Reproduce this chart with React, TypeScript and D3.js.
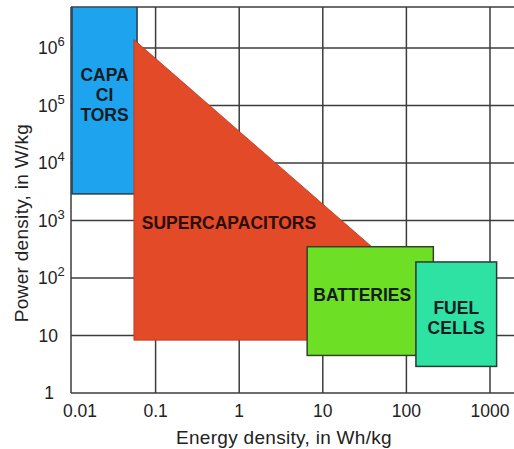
import React from 'react';
import * as d3 from 'd3';

// x ticks (Wh/kg) and y ticks (W/kg)
const energyTicks = [0.01, 0.1, 1, 10, 100, 1000];
const energyTickLabels = ['0.01', '0.1', '1', '10', '100', '1000'];
const powerTicks = [1, 10, 1e2, 1e3, 1e4, 1e5, 1e6];
const powerTickBase = ['1', '10', '10', '10', '10', '10', '10'];
const powerTickExp = ['', '', '2', '3', '4', '5', '6'];

// rectangular regions: [energy min, energy max], [power min, power max]
const capacitorsEnergy = [0.01, 0.06];
const capacitorsPower = [2900, 5.2e6];
const batteriesEnergy = [6.5, 210];
const batteriesPower = [4.5, 350];
const fuelCellsEnergy = [130, 1200];
const fuelCellsPower = [2.9, 190];

// supercapacitor triangle corners
const superEnergy = [0.055, 740, 0.055];
const superPower = [1.4e6, 8.3, 8.3];

const capacitorsLabel = ['CAPA', 'CI', 'TORS'];
const superLabel = 'SUPERCAPACITORS';
const batteriesLabel = 'BATTERIES';
const fuelCellsLabel = ['FUEL', 'CELLS'];

const W = 514;
const H = 449;
const plot = { left: 71, top: 7, right: 514, bottom: 393 };
const font = '"Liberation Sans", Arial, sans-serif';
const gridColor = '#3c3c3c';
const labelColor = '#141c22';

const App = () => {
  const x = d3.scaleLog().domain([0.01, 1000]).range([72, 490]);
  const y = d3.scaleLog().domain([1, 1e6]).range([393, 48]);

  const rect = (ex: number[], py: number[], fill: string, stroke: string) => (
    <rect
      x={x(ex[0])}
      y={y(py[1])}
      width={x(ex[1]) - x(ex[0])}
      height={y(py[0]) - y(py[1])}
      fill={fill}
      stroke={stroke}
      strokeWidth={1.5}
    />
  );

  const tri = d3.line<number>()
    .x(i => x(superEnergy[i]))
    .y(i => y(superPower[i]))
    .curve(d3.curveLinearClosed)([0, 1, 2]);

  const capCx = (x(capacitorsEnergy[0]) + x(capacitorsEnergy[1])) / 2;
  const batCx = (x(batteriesEnergy[0]) + x(batteriesEnergy[1])) / 2 - 8;
  const fuelCx = (x(fuelCellsEnergy[0]) + x(fuelCellsEnergy[1])) / 2;

  return (
    <svg width={W} height={H} style={{ position: 'absolute', left: 0, top: 0, background: '#fff' }}
      fontFamily={font}>
      <defs>
        <clipPath id="plotClip">
          <rect x={plot.left} y={plot.top} width={plot.right - plot.left} height={plot.bottom - plot.top} />
        </clipPath>
      </defs>

      {/* grid */}
      <g stroke={gridColor} strokeWidth={1.5}>
        {energyTicks.slice(1).map(t => (
          <line key={'v' + t} x1={x(t)} x2={x(t)} y1={plot.top} y2={plot.bottom} />
        ))}
        {powerTicks.slice(1).map(t => (
          <line key={'h' + t} x1={plot.left} x2={plot.right} y1={y(t)} y2={y(t)} />
        ))}
        <line x1={plot.left} x2={plot.right} y1={plot.top} y2={plot.top} />
        <line x1={plot.left} x2={plot.right} y1={plot.bottom} y2={plot.bottom} />
        <line x1={plot.left} x2={plot.left} y1={plot.top} y2={plot.bottom} />
      </g>

      {/* regions */}
      <g clipPath="url(#plotClip)">
        {rect(capacitorsEnergy, capacitorsPower, '#1ea4ee', '#2a3a48')}
        <path d={tri || ''} fill="#e24a28" stroke="#b03a20" strokeWidth={0.8} />
        {rect(batteriesEnergy, batteriesPower, '#6ddf25', '#34402a')}
        {rect(fuelCellsEnergy, fuelCellsPower, '#2ee2a3', '#2a3a34')}
      </g>

      {/* region labels */}
      <g fontWeight="bold" fontSize={17.5} textAnchor="middle" fill={labelColor}>
        {capacitorsLabel.map((s, i) => (
          <text key={s} x={capCx} y={81 + i * 20}>{s}</text>
        ))}
        <text x={229} y={229} fill="#2a0e08">{superLabel}</text>
        <text x={batCx} y={301}>{batteriesLabel}</text>
        {fuelCellsLabel.map((s, i) => (
          <text key={s} x={fuelCx} y={314 + i * 20}>{s}</text>
        ))}
      </g>

      {/* x tick labels */}
      <g fontSize={17.5} fill="#222" textAnchor="middle">
        {energyTicks.map((t, i) => (
          <text key={t} x={x(t) + (i === 0 ? 8 : 0)} y={417}>{energyTickLabels[i]}</text>
        ))}
      </g>

      {/* y tick labels */}
      <g fontSize={17.5} fill="#222">
        {powerTicks.map((t, i) => (
          <text key={t} x={powerTickExp[i] ? 38 : (i === 0 ? 54 : 58)} y={y(t) + 6}
            textAnchor={powerTickExp[i] ? 'start' : 'end'}>
            {powerTickBase[i]}
            {powerTickExp[i] && (
              <tspan fontSize={13} dy={-8}>{powerTickExp[i]}</tspan>
            )}
          </text>
        ))}
      </g>

      {/* axis titles */}
      <text x={284} y={444} fontSize={19} fill="#222" textAnchor="middle" letterSpacing={0.3}>
        Energy density, in Wh/kg
      </text>
      <text transform="translate(28,223) rotate(-90)" fontSize={19} fill="#222" textAnchor="middle" letterSpacing={0.3}>
        Power density, in W/kg
      </text>
    </svg>
  );
};

export default App;
